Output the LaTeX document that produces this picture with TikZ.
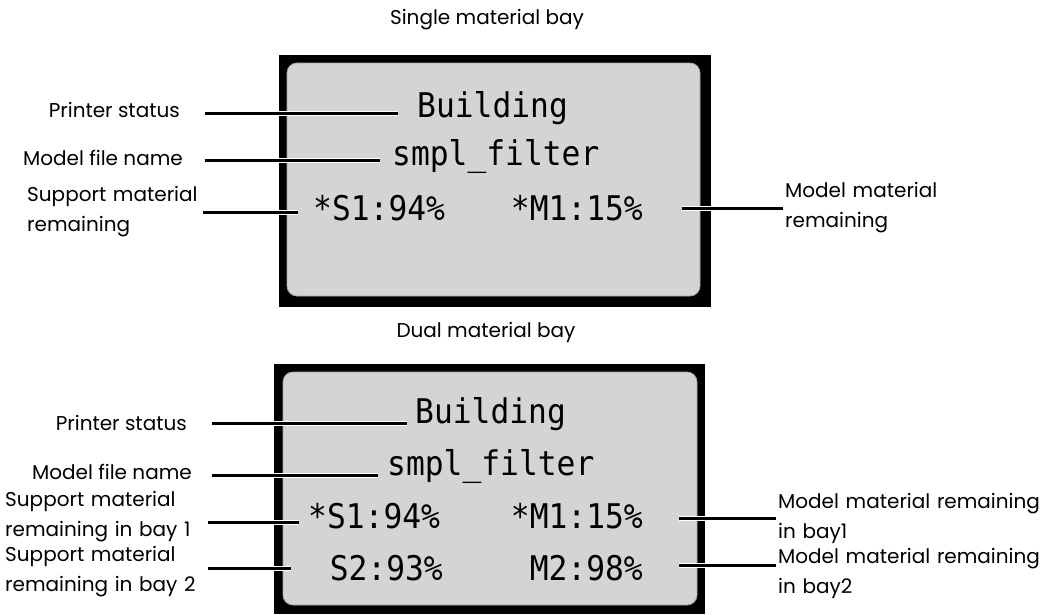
\documentclass[tikz,border=0pt]{standalone}
\usepackage{fontspec}
\setmainfont{Poppins}
\newfontfamily\lcd[FakeStretch=0.92]{DejaVu Sans Mono}
\definecolor{lcdgrey}{RGB}{212,212,212}
\begin{document}
\begin{tikzpicture}[x=1pt,y=-1pt,
  lbl/.style={inner sep=0pt, font=\fontsize{20}{30}\selectfont},
  scr/.style={inner sep=0pt, font=\lcd\fontsize{34}{34}\selectfont},
  leader/.style={draw=black, line width=3pt, preaction={draw=white, line width=5pt}},
  panel/.style={fill=lcdgrey, draw=gray!70, line width=0.8pt, rounded corners=10pt}]
\useasboundingbox (0,0) rectangle (1047,614);
% screens
\fill[black] (279,55) rectangle (711,307);
\path[panel] (287,63) rectangle (700,296);
\fill[black] (274,364) rectangle (705,614);
\path[panel] (283,372) rectangle (697,605);
% titles
\node[lbl] (t1) at (487,20) {Single material bay};
\node[lbl] (t2) at (486,332) {Dual material bay};
% top screen text
\node[scr, anchor=base west] (b1) at (417,117) {Building};
\node[scr, anchor=base west] (f1) at (392,165) {smpl\_filter};
\node[scr, anchor=base west] (s1) at (313,220) {*S1:94\%};
\node[scr, anchor=base east] (m1) at (643,220) {*M1:15\%};
% top labels
\node[lbl, anchor=east] (ps1) at (180,110) {Printer status};
\node[lbl, anchor=east] (mf1) at (183,158) {Model file name};
\node[lbl, anchor=west, text width=176pt, align=left] (sm1) at (27,212) {Support material\\remaining};
\node[lbl, anchor=west, text width=200pt, align=left] (mm1) at (785,208) {Model material\\remaining};
% top leaders
\draw[leader, shorten <=25pt, shorten >=19pt] ([yshift=-3pt]ps1.east) -- ([yshift=-3pt]ps1.east -| b1.west);
\draw[leader, shorten <=22pt, shorten >=12pt] ([yshift=-2pt]mf1.east) -- ([yshift=-2pt]mf1.east -| f1.west);
\draw[leader, shorten >=15pt] (sm1.east) -- (sm1.east -| s1.west);
\draw[leader, shorten <=39pt, shorten >=2pt] (mm1.west -| m1.east) -- (mm1.west);
% bottom screen text
\node[scr, anchor=base west] (b2) at (415,423) {Building};
\node[scr, anchor=base west] (f2) at (387,475) {smpl\_filter};
\node[scr, anchor=base west] (s12) at (308,528) {*S1:94\%};
\node[scr, anchor=base east] (s22) at (443,580) {S2:93\%};
\node[scr, anchor=base east] (m12) at (643,528) {*M1:15\%};
\node[scr, anchor=base east] (m22) at (643,580) {M2:98\%};
% bottom labels
\node[lbl, anchor=east] (ps2) at (187,423) {Printer status};
\node[lbl, anchor=east] (mf2) at (192,472) {Model file name};
\node[lbl, anchor=west, text width=195pt, align=left] (sb1) at (5,517) {Support material\\remaining in bay 1};
\node[lbl, anchor=west, text width=197pt, align=left] (sb2) at (5,572) {Support material\\remaining in bay 2};
\node[lbl, anchor=west, text width=268pt, align=left] (mr1) at (778,518) {Model material remaining\\in bay1};
\node[lbl, anchor=west, text width=268pt, align=left] (mr2) at (778,573) {Model material remaining\\in bay2};
% bottom leaders
\draw[leader, shorten <=25pt, shorten >=8pt] (ps2.east) -- (ps2.east -| b2.west);
\draw[leader, shorten <=20pt, shorten >=9pt] ([yshift=-3pt]mf2.east) -- ([yshift=-3pt]mf2.east -| f2.west);
\draw[leader, shorten <=8pt, shorten >=9pt] ([yshift=-5pt]sb1.east) -- ([yshift=-5pt]sb1.east -| s12.west);
\draw[leader, shorten <=6pt, shorten >=39pt] ([yshift=4pt]sb2.east) -- ([yshift=4pt]sb2.east -| s22.west);
\draw[leader, shorten <=36pt, shorten >=2pt] (mr1.west -| m12.east) -- (mr1.west);
\draw[leader, shorten <=36pt, shorten >=2pt] ([yshift=8pt]mr2.west -| m22.east) -- ([yshift=8pt]mr2.west);
\end{tikzpicture}
\end{document}
